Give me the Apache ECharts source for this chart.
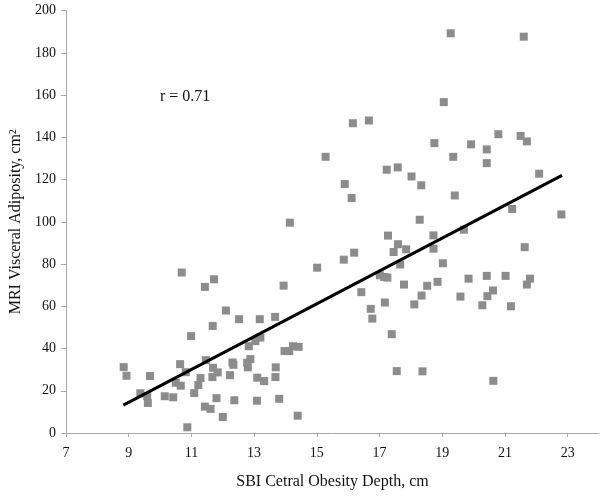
<!DOCTYPE html>
<html>
<head>
<meta charset="utf-8">
<script src="https://cdn.jsdelivr.net/npm/echarts@6/dist/echarts.min.js"></script>
<style>
html,body{margin:0;padding:0;background:#fff;}
#chart{width:605px;height:497px;}
</style>
</head>
<body>
<div id="chart"></div>
<script>
// SBI central obesity depth (cm)
const sbiDepth = [
  8.84, 8.93, 9.37, 9.59, 9.61, 9.68, 10.15, 10.42, 10.69, 10.64,
  10.50, 10.66, 10.82, 10.99, 10.87, 11.09, 11.22, 11.29, 11.43, 11.72,
  11.46, 11.68, 11.69, 11.84, 11.67, 11.43, 11.61, 11.80, 12.00, 12.10,
  12.23, 12.31, 12.34, 12.37, 12.52,
  12.83, 12.88, 12.78, 12.80, 13.04, 13.18, 13.20, 13.10, 13.32, 13.09,
  13.67, 13.94, 13.69, 13.68, 13.80, 13.97, 14.12, 14.24, 14.42, 14.39,
  15.01, 15.86, 16.19, 16.42, 16.72, 16.77, 17.01, 17.15, 17.25, 17.17,
  17.39, 17.55, 17.78, 17.59, 17.45, 17.85, 17.66,
  16.15, 16.66, 15.28, 17.23, 17.58, 18.02, 15.89, 16.11, 14.14, 17.27,
  19.27, 21.60, 19.05, 20.79, 21.50, 21.70, 18.75, 19.92, 20.42, 19.35,
  20.42, 22.09, 18.33, 19.40, 21.23, 22.80, 18.28, 19.69, 18.72, 18.72,
  21.63,
  19.02, 18.52, 18.85, 18.34, 18.11, 19.84, 19.58, 20.42, 21.02, 21.80,
  21.70, 20.62, 20.44, 20.28, 21.19, 18.37, 20.63
];
// MRI visceral adiposity (cm2)
const mriArea = [
  31.2, 27.1, 18.8, 17.5, 14.2, 27.0, 17.4, 16.9, 76.0, 32.6,
  23.8, 22.4, 28.8, 45.9, 2.7, 18.9, 22.7, 26.0, 69.2, 72.8,
  34.5, 50.7, 30.9, 28.7, 26.5, 12.5, 11.4, 16.5, 7.6, 58.0,
  27.4, 33.4, 32.3, 15.5, 53.9,
  41.1, 35.0, 33.3, 31.1, 43.5, 53.9, 45.2, 26.2, 24.6, 15.3,
  55.0, 69.8, 31.1, 26.5, 16.2, 38.8, 38.8, 41.1, 40.8, 8.2,
  78.3, 82.1, 85.4, 66.7, 58.8, 54.2, 74.7, 73.9, 73.6, 61.8,
  46.8, 29.3, 70.3, 89.4, 85.7, 87.0, 79.8,
  146.7, 148.0, 130.8, 124.7, 125.8, 121.5, 117.9, 111.3, 99.6, 93.5,
  189.3, 187.7, 156.7, 141.5, 140.7, 138.1, 137.3, 136.7, 134.3, 130.8,
  127.8, 122.8, 117.3, 112.5, 106.1, 103.5, 101.0, 96.3, 93.6, 87.3,
  88.0,
  80.4, 69.7, 71.6, 65.1, 60.9, 73.1, 64.6, 74.4, 74.4, 73.1,
  70.3, 67.5, 64.8, 60.5, 60.0, 29.2, 24.7
];
// Linear fit line end points
const fitX = [8.83, 22.82];
const fitY = [13.2, 122.0];
const xTicks = [7, 9, 11, 13, 15, 17, 19, 21, 23];
const rLabel = 'r = 0.71';

const points = sbiDepth.map((x, i) => [x, mriArea[i]]);
const fitLine = fitX.map((x, i) => [x, fitY[i]]);

const chart = echarts.init(document.getElementById('chart'), null, {renderer: 'canvas'});
const font = 'Liberation Serif';
chart.setOption({
  animation: false,
  backgroundColor: '#ffffff',
  grid: {left: 63, right: 6, top: 10.7, bottom: 64, containLabel: false},
  xAxis: {
    type: 'value', min: 7, max: 24, interval: 2,
    name: 'SBI Cetral Obesity Depth, cm',
    nameLocation: 'middle', nameGap: 41,
    nameTextStyle: {fontFamily: font, fontSize: 16, color: '#111'},
    axisLine: {show: true, onZero: false, lineStyle: {color: '#a9a9a9', width: 1}},
    axisTick: {show: true, length: 4, lineStyle: {color: '#a9a9a9'}, customValues: xTicks},
    axisLabel: {fontFamily: font, fontSize: 14, color: '#111', margin: 13, customValues: xTicks},
    splitLine: {show: false}
  },
  yAxis: {
    type: 'value', min: 0, max: 200, interval: 20,
    name: 'MRI Visceral Adiposity, cm²',
    nameLocation: 'middle', nameGap: 42, nameRotate: 90,
    nameTextStyle: {fontFamily: font, fontSize: 16, color: '#111'},
    axisLine: {show: true, lineStyle: {color: '#a9a9a9', width: 1}},
    axisTick: {show: true, length: 5, lineStyle: {color: '#a9a9a9'}},
    axisLabel: {fontFamily: font, fontSize: 14, color: '#111', margin: 10},
    splitLine: {show: false}
  },
  graphic: [{
    type: 'text', left: 160, top: 89,
    style: {text: rLabel, font: '16px "Liberation Serif"', fill: '#111'}
  }],
  series: [
    {
      type: 'scatter', data: points, symbol: 'rect', symbolSize: 8,
      itemStyle: {color: '#8c8c8c', opacity: 1}, z: 2
    },
    {
      type: 'line', data: fitLine, symbol: 'none', z: 3,
      lineStyle: {color: '#000', width: 3}
    }
  ]
});
</script>
</body>
</html>
